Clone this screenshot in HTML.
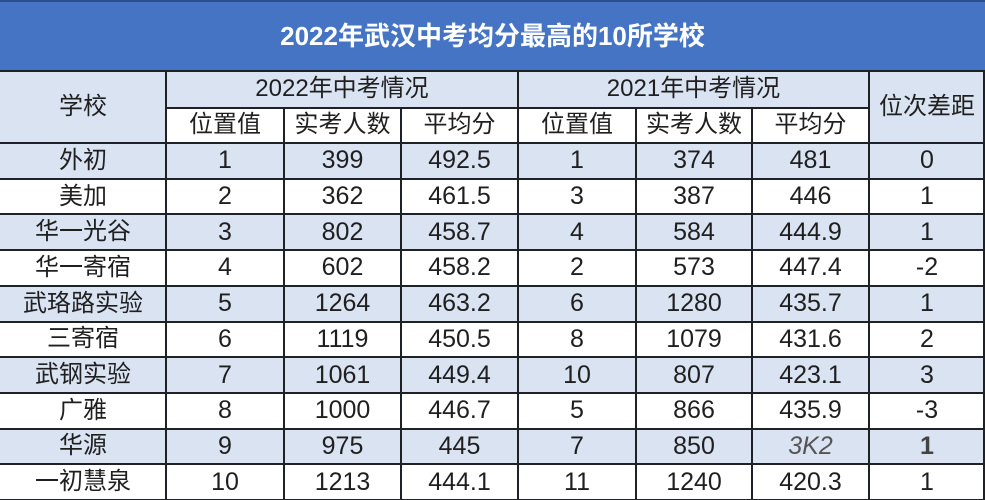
<!DOCTYPE html>
<html><head><meta charset="utf-8">
<style>
*{margin:0;padding:0;box-sizing:border-box}
html,body{width:985px;height:500px;overflow:hidden;background:#fff}
body{position:relative;font-family:"Liberation Sans","Noto Sans CJK SC",sans-serif;color:#1f1f1f}
.a{position:absolute}
.c{position:absolute;display:flex;align-items:center;justify-content:center;font-size:25px;white-space:nowrap;line-height:1}
.t{font-size:24px}
.h{position:absolute;background:#1e2226}
.v{position:absolute;background:#1e2226}
.bg{position:absolute;background:#dae3f2}
</style></head><body>
<div class="a" style="left:0;top:0;width:985px;height:71px;background:#4674c5;border-top:2px solid #2c4d8e"></div>
<div class="c" style="left:0;top:0;width:985px;height:71px;color:#fff;font-weight:bold;font-size:26px">2022年武汉中考均分最高的10所学校</div>

<div class="bg" style="left:0;top:71px;width:166px;height:72px"></div>
<div class="bg" style="left:166px;top:71px;width:703px;height:36px"></div>
<div class="bg" style="left:869px;top:71px;width:116px;height:72px"></div>
<div class="bg" style="left:0;top:143px;width:985px;height:35.7px"></div>
<div class="bg" style="left:0;top:214.4px;width:985px;height:35.7px"></div>
<div class="bg" style="left:0;top:285.8px;width:985px;height:35.7px"></div>
<div class="bg" style="left:0;top:357.2px;width:985px;height:35.7px"></div>
<div class="bg" style="left:0;top:428.6px;width:985px;height:35.7px"></div>

<div class="c t" style="left:0;top:71px;width:166px;height:72px">学校</div>
<div class="c t" style="left:166px;top:71px;width:352px;height:36px">2022年中考情况</div>
<div class="c t" style="left:518px;top:71px;width:351px;height:36px">2021年中考情况</div>
<div class="c t" style="left:869px;top:71px;width:116px;height:72px">位次差距</div>
<div class="c t" style="left:166px;top:107px;width:118px;height:36px">位置值</div>
<div class="c t" style="left:284px;top:107px;width:117px;height:36px">实考人数</div>
<div class="c t" style="left:401px;top:107px;width:117px;height:36px">平均分</div>
<div class="c t" style="left:518px;top:107px;width:118px;height:36px">位置值</div>
<div class="c t" style="left:636px;top:107px;width:116px;height:36px">实考人数</div>
<div class="c t" style="left:752px;top:107px;width:117px;height:36px">平均分</div>

<!-- row 1 -->
<div class="c t" style="left:0;top:143px;width:166px;height:35.7px">外初</div>
<div class="c" style="left:166px;top:143px;width:118px;height:35.7px">1</div>
<div class="c" style="left:284px;top:143px;width:117px;height:35.7px">399</div>
<div class="c" style="left:401px;top:143px;width:117px;height:35.7px">492.5</div>
<div class="c" style="left:518px;top:143px;width:118px;height:35.7px">1</div>
<div class="c" style="left:636px;top:143px;width:116px;height:35.7px">374</div>
<div class="c" style="left:752px;top:143px;width:117px;height:35.7px">481</div>
<div class="c" style="left:869px;top:143px;width:116px;height:35.7px">0</div>
<!-- row 2 -->
<div class="c t" style="left:0;top:178.7px;width:166px;height:35.7px">美加</div>
<div class="c" style="left:166px;top:178.7px;width:118px;height:35.7px">2</div>
<div class="c" style="left:284px;top:178.7px;width:117px;height:35.7px">362</div>
<div class="c" style="left:401px;top:178.7px;width:117px;height:35.7px">461.5</div>
<div class="c" style="left:518px;top:178.7px;width:118px;height:35.7px">3</div>
<div class="c" style="left:636px;top:178.7px;width:116px;height:35.7px">387</div>
<div class="c" style="left:752px;top:178.7px;width:117px;height:35.7px">446</div>
<div class="c" style="left:869px;top:178.7px;width:116px;height:35.7px">1</div>
<!-- row 3 -->
<div class="c t" style="left:0;top:214.4px;width:166px;height:35.7px">华一光谷</div>
<div class="c" style="left:166px;top:214.4px;width:118px;height:35.7px">3</div>
<div class="c" style="left:284px;top:214.4px;width:117px;height:35.7px">802</div>
<div class="c" style="left:401px;top:214.4px;width:117px;height:35.7px">458.7</div>
<div class="c" style="left:518px;top:214.4px;width:118px;height:35.7px">4</div>
<div class="c" style="left:636px;top:214.4px;width:116px;height:35.7px">584</div>
<div class="c" style="left:752px;top:214.4px;width:117px;height:35.7px">444.9</div>
<div class="c" style="left:869px;top:214.4px;width:116px;height:35.7px">1</div>
<!-- row 4 -->
<div class="c t" style="left:0;top:250.1px;width:166px;height:35.7px">华一寄宿</div>
<div class="c" style="left:166px;top:250.1px;width:118px;height:35.7px">4</div>
<div class="c" style="left:284px;top:250.1px;width:117px;height:35.7px">602</div>
<div class="c" style="left:401px;top:250.1px;width:117px;height:35.7px">458.2</div>
<div class="c" style="left:518px;top:250.1px;width:118px;height:35.7px">2</div>
<div class="c" style="left:636px;top:250.1px;width:116px;height:35.7px">573</div>
<div class="c" style="left:752px;top:250.1px;width:117px;height:35.7px">447.4</div>
<div class="c" style="left:869px;top:250.1px;width:116px;height:35.7px">-2</div>
<!-- row 5 -->
<div class="c t" style="left:0;top:285.8px;width:166px;height:35.7px">武珞路实验</div>
<div class="c" style="left:166px;top:285.8px;width:118px;height:35.7px">5</div>
<div class="c" style="left:284px;top:285.8px;width:117px;height:35.7px">1264</div>
<div class="c" style="left:401px;top:285.8px;width:117px;height:35.7px">463.2</div>
<div class="c" style="left:518px;top:285.8px;width:118px;height:35.7px">6</div>
<div class="c" style="left:636px;top:285.8px;width:116px;height:35.7px">1280</div>
<div class="c" style="left:752px;top:285.8px;width:117px;height:35.7px">435.7</div>
<div class="c" style="left:869px;top:285.8px;width:116px;height:35.7px">1</div>
<!-- row 6 -->
<div class="c t" style="left:0;top:321.5px;width:166px;height:35.7px">三寄宿</div>
<div class="c" style="left:166px;top:321.5px;width:118px;height:35.7px">6</div>
<div class="c" style="left:284px;top:321.5px;width:117px;height:35.7px">1119</div>
<div class="c" style="left:401px;top:321.5px;width:117px;height:35.7px">450.5</div>
<div class="c" style="left:518px;top:321.5px;width:118px;height:35.7px">8</div>
<div class="c" style="left:636px;top:321.5px;width:116px;height:35.7px">1079</div>
<div class="c" style="left:752px;top:321.5px;width:117px;height:35.7px">431.6</div>
<div class="c" style="left:869px;top:321.5px;width:116px;height:35.7px">2</div>
<!-- row 7 -->
<div class="c t" style="left:0;top:357.2px;width:166px;height:35.7px">武钢实验</div>
<div class="c" style="left:166px;top:357.2px;width:118px;height:35.7px">7</div>
<div class="c" style="left:284px;top:357.2px;width:117px;height:35.7px">1061</div>
<div class="c" style="left:401px;top:357.2px;width:117px;height:35.7px">449.4</div>
<div class="c" style="left:518px;top:357.2px;width:118px;height:35.7px">10</div>
<div class="c" style="left:636px;top:357.2px;width:116px;height:35.7px">807</div>
<div class="c" style="left:752px;top:357.2px;width:117px;height:35.7px">423.1</div>
<div class="c" style="left:869px;top:357.2px;width:116px;height:35.7px">3</div>
<!-- row 8 -->
<div class="c t" style="left:0;top:392.9px;width:166px;height:35.7px">广雅</div>
<div class="c" style="left:166px;top:392.9px;width:118px;height:35.7px">8</div>
<div class="c" style="left:284px;top:392.9px;width:117px;height:35.7px">1000</div>
<div class="c" style="left:401px;top:392.9px;width:117px;height:35.7px">446.7</div>
<div class="c" style="left:518px;top:392.9px;width:118px;height:35.7px">5</div>
<div class="c" style="left:636px;top:392.9px;width:116px;height:35.7px">866</div>
<div class="c" style="left:752px;top:392.9px;width:117px;height:35.7px">435.9</div>
<div class="c" style="left:869px;top:392.9px;width:116px;height:35.7px">-3</div>
<!-- row 9 -->
<div class="c t" style="left:0;top:428.6px;width:166px;height:35.7px">华源</div>
<div class="c" style="left:166px;top:428.6px;width:118px;height:35.7px">9</div>
<div class="c" style="left:284px;top:428.6px;width:117px;height:35.7px">975</div>
<div class="c" style="left:401px;top:428.6px;width:117px;height:35.7px">445</div>
<div class="c" style="left:518px;top:428.6px;width:118px;height:35.7px">7</div>
<div class="c" style="left:636px;top:428.6px;width:116px;height:35.7px">850</div>
<div class="c" style="left:752px;top:428.6px;width:117px;height:35.7px;color:#555;font-style:italic">3K2</div>
<div class="c" style="left:869px;top:428.6px;width:116px;height:35.7px;color:#444;font-weight:bold">1</div>
<!-- row 10 -->
<div class="c t" style="left:0;top:464.3px;width:166px;height:35.7px">一初慧泉</div>
<div class="c" style="left:166px;top:464.3px;width:118px;height:35.7px">10</div>
<div class="c" style="left:284px;top:464.3px;width:117px;height:35.7px">1213</div>
<div class="c" style="left:401px;top:464.3px;width:117px;height:35.7px">444.1</div>
<div class="c" style="left:518px;top:464.3px;width:118px;height:35.7px">11</div>
<div class="c" style="left:636px;top:464.3px;width:116px;height:35.7px">1240</div>
<div class="c" style="left:752px;top:464.3px;width:117px;height:35.7px">420.3</div>
<div class="c" style="left:869px;top:464.3px;width:116px;height:35.7px">1</div>

<!-- horizontal lines -->
<div class="h" style="left:0;top:70px;width:985px;height:2px"></div>
<div class="h" style="left:166px;top:106.5px;width:703px;height:2px"></div>
<div class="h" style="left:0;top:142px;width:985px;height:2px"></div>
<div class="h" style="left:0;top:177.7px;width:985px;height:2px"></div>
<div class="h" style="left:0;top:213.4px;width:985px;height:2px"></div>
<div class="h" style="left:0;top:249.1px;width:985px;height:2px"></div>
<div class="h" style="left:0;top:284.8px;width:985px;height:2px"></div>
<div class="h" style="left:0;top:320.5px;width:985px;height:2px"></div>
<div class="h" style="left:0;top:356.2px;width:985px;height:2px"></div>
<div class="h" style="left:0;top:391.9px;width:985px;height:2px"></div>
<div class="h" style="left:0;top:427.6px;width:985px;height:2px"></div>
<div class="h" style="left:0;top:463.3px;width:985px;height:2px"></div>
<div class="h" style="left:0;top:498.5px;width:985px;height:2px"></div>
<!-- vertical lines -->
<div class="v" style="left:165px;top:71px;width:2px;height:429px"></div>
<div class="v" style="left:283px;top:107px;width:2px;height:393px"></div>
<div class="v" style="left:400px;top:107px;width:2px;height:393px"></div>
<div class="v" style="left:517px;top:71px;width:2px;height:429px"></div>
<div class="v" style="left:635px;top:107px;width:2px;height:393px"></div>
<div class="v" style="left:751px;top:107px;width:2px;height:393px"></div>
<div class="v" style="left:868px;top:71px;width:2px;height:429px"></div>
<div class="v" style="left:983px;top:71px;width:2px;height:429px"></div>
</body></html>
